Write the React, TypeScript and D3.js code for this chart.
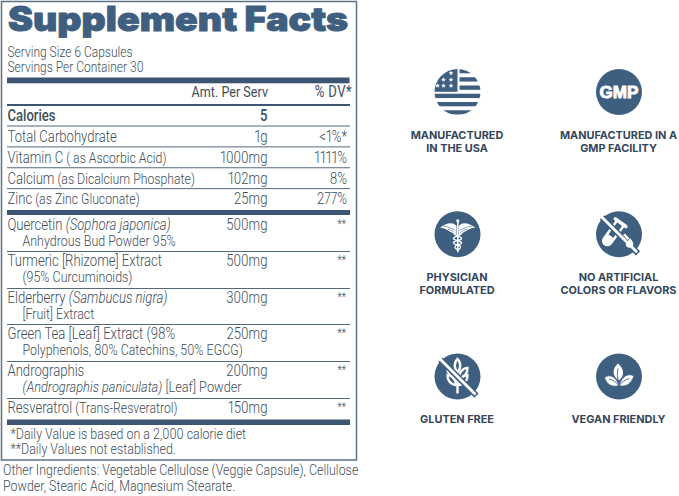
import React from "react";
import * as d3 from "d3";

const servingLines = ["Serving Size 6 Capsules", "Servings Per Container 30"];
const nutrientNames = ["Calories", "Total Carbohydrate", "Vitamin C", "Calcium", "Zinc"];
const nutrientNotes = ["", "", " ( as Ascorbic Acid)", " (as Dicalcium Phosphate)", " (as Zinc Gluconate)"];
const nutrientAmounts = ["5", "1g", "1000mg", "102mg", "25mg"];
const nutrientDV = ["", "<1%*", "1111%", "8%", "277%"];

type Seg = [string, boolean, boolean?];
const herbFirst: Seg[][] = [
  [["Quercetin ", false], ["(Sophora japonica)", true]],
  [["Turmeric [Rhizome] Extract", false]],
  [["Elderberry ", false], ["(Sambucus nigra)", true]],
  [["Green Tea [Leaf] Extract (98%", false]],
  [["Andrographis", false]],
  [["Resveratrol ", false], ["(Trans-Resveratrol)", false, true]],
];
const herbSecond: Seg[][] = [
  [["Anhydrous Bud Powder 95%", false]],
  [["(95% Curcuminoids)", false]],
  [["[Fruit] Extract", false]],
  [["Polyphenols, 80% Catechins, 50% EGCG)", false]],
  [["(Andrographis paniculata)", true], [" [Leaf] Powder", false]],
  [],
];
const herbAmounts = ["500mg", "500mg", "300mg", "250mg", "200mg", "150mg"];
const herbDV = ["**", "**", "**", "**", "**", "**"];
const footnotes = ["*Daily Value is based on a 2,000 calorie diet", "**Daily Values not established."];
const otherLines = ["Other Ingredients: Vegetable Cellulose (Veggie Capsule), Cellulose", "Powder, Stearic Acid, Magnesium Stearate."];
const badgeLabels = [
  ["MANUFACTURED", "IN THE USA"],
  ["MANUFACTURED IN A", "GMP FACILITY"],
  ["PHYSICIAN", "FORMULATED"],
  ["NO ARTIFICIAL", "COLORS OR FLAVORS"],
  ["GLUTEN FREE"],
  ["VEGAN FRIENDLY"],
];

const BLUE = "#3f5f80";
const BAR = "#3b5573";
const TXT = "#404e5a";
const LABEL = "#33465a";
const BODY = "Roboto, 'Liberation Sans', sans-serif";
const SX = 0.84;

const nutrientTop = d3.scaleLinear().domain([0, 4]).range([105.5, 189]);
const herbTops = [215, 251.5, 288.5, 324.5, 361.5, 398.5];
const colX = d3.scalePoint<number>().domain([0, 1]).range([457.5, 619]);
const rowY = d3.scalePoint<number>().domain([0, 1, 2]).range([92, 376.5]);

const Line = ({ y }: { y: number }) => <line x1={7} x2={350} y1={y} y2={y} stroke="#55697c" strokeWidth={1} />;

const T = ({ x, y, children, ...p }: any) => (
  <text x={x / SX} y={y} transform={`scale(${SX},1)`} fontFamily={BODY} fontWeight={300} fontSize={15.6} fill={TXT} style={{ fontVariantNumeric: "proportional-nums" }} {...p}>{children}</text>
);

const Segs = ({ s, x, y, size, weight }: { s: Seg[]; x: number; y: number; size?: number; weight?: number }) => (
  <T x={x} y={y} fontSize={size ?? 15.6} fontWeight={weight ?? 300}>
    {s.map(([t, it, small], i) => (
      <tspan key={i} fontStyle={it ? "italic" : "normal"} fontSize={small ? 14.6 : undefined} xmlSpace="preserve">{t}</tspan>
    ))}
  </T>
);

const starPath = (cx: number, cy: number, r: number) => {
  const pts = d3.range(10).map((i) => {
    const a = (i * Math.PI) / 5 - Math.PI / 2;
    const rr = i % 2 ? r * 0.45 : r;
    return [cx + rr * Math.cos(a), cy + rr * Math.sin(a)] as [number, number];
  });
  return d3.line()(pts)! + "Z";
};

const FlagIcon = () => {
  const stripes = d3.range(6);
  const stars: [number, number][] = [[-6.5, -19], [-14, -12.3], [-6.5, -12.3], [-20, -6.3], [-14, -6.3], [-6.5, -6.3]];
  return (
    <g>
      <clipPath id="flagClip"><circle r={23} /></clipPath>
      <g clipPath="url(#flagClip)">
        {stripes.map((i) => (
          <rect key={i} x={i < 3 ? 2 : -24} width={i < 3 ? 24 : 48} y={-23 + i * 8.25} height={4.3} fill={BLUE} />
        ))}
        <rect x={-24} y={-24} width={24} height={23.8} fill={BLUE} />
        <path d="M-24,-24 H-5 C-7,-22 -10,-22 -12,-19.5 C-14,-17 -18,-16 -24,-12 Z" fill="#fff" />
        {stars.map(([x, y], i) => <path key={i} d={starPath(x, y, 2.5)} fill="#fff" />)}
      </g>
    </g>
  );
};

const Caduceus = () => (
  <g fill="#fff" stroke="none">
    <path d="M-1,-8.5 C-5,-13 -12,-11 -17.5,-6.5 C-14,-6.5 -11,-5 -9,-3.5 C-6,-2 -3,-0.5 -1,1 Z" />
    <path d="M1.5,-8.5 C5,-13 12,-11 18,-6.5 C14,-6.5 11,-5 9,-3.5 C6,-2 3,-0.5 1.5,1 Z" />
    <g stroke={BLUE} strokeWidth={0.6} fill="none">
      <path d="M-14,-8 C-10,-8 -7,-6 -2,-4" />
      <path d="M14,-8 C10,-8 7,-6 2,-4" />
      <path d="M-10,-5 C-7,-5 -5,-3 -2,-1" />
      <path d="M10,-5 C7,-5 5,-3 2,-1" />
    </g>
    <rect x={-0.5} y={-14} width={1.6} height={32} />
    <circle cx={0.3} cy={-13.5} r={1.6} />
    <path d="M-3,-2 C-6,1 5,2 4,4.5 C3,7 -4,6 -4,8.5 C-4,11 4,10 3,13 C2,15 1,15 0.3,16.5 M4,-2 C6,1 -5,2 -4,4.5 C-3,7 4,6 4,8.5 C4,11 -3,10 -2.5,13 C-2,15 0,15 0.3,16.5" fill="none" stroke="#fff" strokeWidth={1.3} />
  </g>
);

const Slash = () => (
  <g>
    <line x1={-19} y1={-19} x2={17} y2={17} stroke={BLUE} strokeWidth={6} transform="translate(2,2.2)" />
    <line x1={-20} y1={-20} x2={18} y2={18} stroke="#fff" strokeWidth={2.8} />
  </g>
);

const Flask = () => (
  <g>
    <g transform="translate(-7.5,1) rotate(36)" fill="none" stroke="#fff" strokeWidth={2.5}>
      <path d="M-4.2,-14 V7 A4.2,4.2 0 0 0 4.2,7 V-14" />
      <path d="M-6.5,-15.5 H6.5" strokeWidth={3.6} strokeLinecap="round" />
      <path d="M-3.6,1 H3.6 V7 A3.6,3.6 0 0 1 -3.6,7 Z" fill="#fff" stroke="none" />
    </g>
    <Slash />
    <path d="M11,4 C14,7.5 15,9.5 14,11.5 C13,14 8,14 7,11.5 C6,9.5 9,7 11,4 Z" fill="#fff" />
    <path d="M5,0 L9.5,5" stroke="#fff" strokeWidth={2.5} />
  </g>
);

const leaf = "M0,-6.5 C3.6,-3 3.6,3 0,6.5 C-3.6,3 -3.6,-3 0,-6.5 Z";
const leafPositions: [number, number, number][] = [
  [0, -11, 0], [-5.8, -3.6, -40], [5.8, -3.6, 40], [-5.8, 3.6, -40], [5.8, 3.6, 40],
];
const Wheat = () => (
  <g>
    <line x1={0} x2={0} y1={-6} y2={17} stroke="#fff" strokeWidth={2.4} />
    {leafPositions.map(([x, y, r], i) => (
      <path key={i} d={leaf} transform={`translate(${x},${y}) rotate(${r})`} fill={BLUE} stroke="#fff" strokeWidth={2.4} />
    ))}
    <Slash />
  </g>
);

const Leaves = () => (
  <g>
    <path d="M-1,-13 C5,-8 6,-1 0,4 C-7,0 -7,-8 -1,-13 Z" fill="#fff" />
    <path d="M-1,-8 C-2,-3 -2,1 0,7" fill="none" stroke={BLUE} strokeWidth={0.9} />
    <path d="M-14.5,1 C-9,-3 -3,0 0,9 C-6,11 -12,9 -14.5,1 Z" fill="#fff" stroke={BLUE} strokeWidth={0.8} />
    <path d="M-10,2.5 C-6,3 -3,6 0,9" fill="none" stroke={BLUE} strokeWidth={0.9} />
    <path d="M15,-0.5 C9,-4 3,0 0,9 C6,11 12,8 15,-0.5 Z" fill="#fff" stroke={BLUE} strokeWidth={0.8} />
    <path d="M10,2 C6,3 3,6 0,9" fill="none" stroke={BLUE} strokeWidth={0.9} />
  </g>
);

const GmpIcon = () => (
  <text x={0} y={6.2} textAnchor="middle" fontFamily="'Liberation Sans', sans-serif" fontWeight={700} fontSize={17} fill="#fff" stroke="#fff" strokeWidth={0.9} textLength={39} lengthAdjust="spacingAndGlyphs">GMP</text>
);

const Badge = ({ i }: { i: number }) => {
  const col = i % 2;
  const row = Math.floor(i / 2);
  const cx = colX(col)!;
  const cy = rowY(row)!;
  const labelY = cy + 46.5;
  return (
    <g>
      <g transform={`translate(${cx},${cy})`}>
        {i !== 0 && <circle r={23} fill={BLUE} />}
        {i === 0 && <FlagIcon />}
        {i === 1 && <GmpIcon />}
        {i === 2 && <Caduceus />}
        {i === 3 && <Flask />}
        {i === 4 && <Wheat />}
        {i === 5 && <Leaves />}
      </g>
      {badgeLabels[i].map((t, k) => (
        <text key={k} x={cx - 0.5} y={labelY + k * 13.7} textAnchor="middle" fontFamily="Inter, sans-serif" fontWeight={700} fontSize={10.9} fill={LABEL}>{t}</text>
      ))}
    </g>
  );
};

export default function App() {
  return (
    <svg width={679} height={496} viewBox="0 0 679 496" style={{ position: "absolute", left: 0, top: 0, background: "#fff" }}>
      <rect x={1.5} y={1.5} width={355} height={458.5} fill="none" stroke="#5c7185" strokeWidth={1.5} />
      <text x={8} y={31} fontFamily="Inter, 'Liberation Sans', sans-serif" fontWeight={900} fontSize={33.5} fill={BLUE} stroke={BLUE} strokeWidth={0.9} textLength={340} lengthAdjust="spacingAndGlyphs">Supplement Facts</text>

      {servingLines.map((t, i) => <T key={i} x={7.5} y={57 + i * 15.5} fontSize={14.3}>{t}</T>)}
      <rect x={7} y={77.5} width={342.5} height={5.8} fill={BAR} />
      <T x={268} y={97} textAnchor="end" fontSize={15} fontWeight={400}>Amt. Per Serv</T>
      <T x={352} y={97} textAnchor="end" fontSize={15.6} fontWeight={400} letterSpacing={0.5}>% DV*</T>
      <rect x={7} y={104} width={343} height={2} fill={BAR} />

      {nutrientNames.map((t, i) => {
        const top = nutrientTop(i);
        const b = top + 15.5;
        return (
          <g key={i}>
            <Segs s={[[t, false], [nutrientNotes[i], false, true]]} x={7.5} y={b} weight={i === 0 ? 500 : 300} />
            <T x={267.5} y={b} textAnchor="end" fontWeight={i === 0 ? 500 : 300}>{nutrientAmounts[i]}</T>
            {nutrientDV[i] && <T x={347} y={b} textAnchor="end">{nutrientDV[i]}</T>}
            {i < 4 && <Line y={top + 20.5} />}
          </g>
        );
      })}
      <rect x={7} y={210} width={343} height={5} fill={BAR} />

      {herbFirst.map((s, i) => {
        const top = herbTops[i];
        return (
          <g key={i}>
            <Segs s={s} x={7.5} y={top + 15} />
            {herbSecond[i].length > 0 && <Segs s={herbSecond[i]} x={22.5} y={top + 30.8} size={i === 4 ? 15.2 : 14.8} />}
            <T x={267.5} y={top + 15} textAnchor="end">{herbAmounts[i]}</T>
            <T x={346} y={top + 13} textAnchor="end" fontSize={12}>{herbDV[i]}</T>
            {i < 5 && <Line y={herbTops[i + 1]} />}
          </g>
        );
      })}
      <rect x={7} y={419.5} width={343} height={5.5} fill={BAR} />
      {footnotes.map((t, i) => <T key={i} x={10.5} y={438.7 + i * 15.5} fontSize={14.8}>{t}</T>)}
      {otherLines.map((t, i) => <T key={i} x={3} y={475 + i * 16} fontSize={14.8}>{t}</T>)}

      {badgeLabels.map((_, i) => <Badge key={i} i={i} />)}
    </svg>
  );
}
